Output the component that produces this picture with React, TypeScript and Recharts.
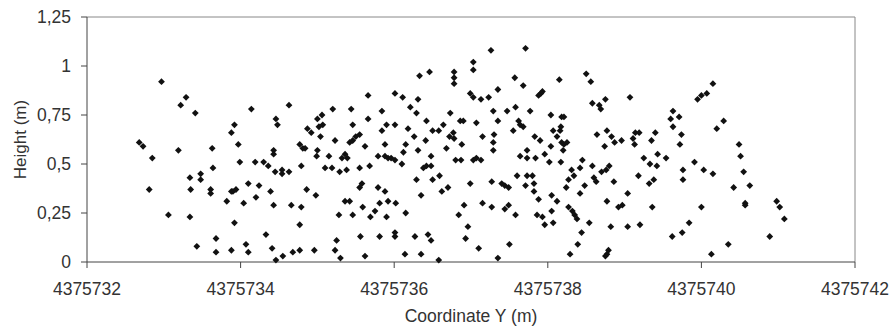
import React from "react";
import {
  ScatterChart,
  Scatter,
  XAxis,
  YAxis,
  ReferenceLine,
} from "recharts";

// Coordinate Y is stored as an offset from this origin (m)
const Y_ORIGIN = 4375732;

const xTicks = [4375732, 4375734, 4375736, 4375738, 4375740, 4375742];
const yTicks = [0, 0.25, 0.5, 0.75, 1, 1.25];

// [coordinate Y offset (m), height (m)]
const pointsWest: [number, number][] = [
  [0.68, 0.61], [0.73, 0.59], [0.97, 0.92], [1.29, 0.84], [1.22, 0.8], [1.41, 0.76],
  [2.14, 0.78], [2.63, 0.8], [1.92, 0.7], [1.88, 0.66], [2.46, 0.73], [2.48, 0.7],
  [2.87, 0.68], [0.85, 0.53], [1.19, 0.57], [1.63, 0.58], [1.97, 0.6], [1.64, 0.48],
  [1.99, 0.51], [2.19, 0.51], [2.3, 0.51], [2.36, 0.49], [2.43, 0.57], [2.43, 0.55],
  [2.45, 0.46], [2.54, 0.47], [2.54, 0.45], [2.63, 0.46], [2.77, 0.6], [2.81, 0.58],
  [2.84, 0.58], [2.79, 0.49], [1.34, 0.43], [1.48, 0.45], [1.48, 0.42], [0.81, 0.37],
  [1.35, 0.37], [1.61, 0.37], [1.61, 0.35], [1.88, 0.36], [1.9, 0.36], [1.94, 0.37],
  [2.1, 0.4], [2.24, 0.39], [2.39, 0.36], [2.2, 0.33], [1.82, 0.31], [2.04, 0.3],
  [2.43, 0.29], [2.66, 0.29], [2.79, 0.28], [2.86, 0.37], [1.06, 0.24], [1.34, 0.23],
  [1.92, 0.2], [2.77, 0.19], [2.33, 0.14], [1.68, 0.12], [1.43, 0.08], [2.07, 0.09],
  [1.68, 0.05], [1.88, 0.06], [2.1, 0.05], [2.41, 0.07], [2.46, 0.01], [2.55, 0.03],
  [2.68, 0.05], [2.77, 0.06],
];

const pointsCentre: [number, number][] = [
  [5.26, 1.08], [5.03, 1.02], [5.03, 0.98], [4.78, 0.97], [4.78, 0.94], [4.78, 0.91],
  [4.46, 0.97], [4.33, 0.95], [5.35, 0.88], [4.99, 0.86], [5.03, 0.84], [5.13, 0.83],
  [5.23, 0.84], [3.66, 0.85], [4.01, 0.86], [4.11, 0.84], [4.31, 0.83], [4.21, 0.79],
  [4.29, 0.76], [3.2, 0.78], [3.44, 0.78], [3.84, 0.77], [3.0, 0.73], [3.06, 0.75],
  [3.02, 0.69], [3.07, 0.7], [3.46, 0.7], [3.66, 0.73], [3.9, 0.7], [4.01, 0.7],
  [3.84, 0.67], [4.18, 0.68], [4.42, 0.72], [4.73, 0.76], [4.64, 0.7], [4.86, 0.72],
  [4.9, 0.72], [5.07, 0.71], [5.29, 0.77], [5.35, 0.72], [2.92, 0.66], [3.55, 0.65],
  [4.5, 0.67], [4.58, 0.67], [4.77, 0.66], [5.3, 0.65],
  [3.04, 0.64], [3.23, 0.62], [3.42, 0.61], [3.46, 0.62], [3.5, 0.64], [3.62, 0.59],
  [3.0, 0.57], [2.99, 0.54], [3.15, 0.54], [3.32, 0.53], [3.36, 0.55], [3.39, 0.53],
  [3.1, 0.48], [3.19, 0.48], [3.29, 0.46], [3.38, 0.47], [3.55, 0.48], [3.68, 0.49],
  [3.79, 0.54], [3.88, 0.6], [3.88, 0.54], [3.92, 0.53], [3.96, 0.53], [4.01, 0.52],
  [4.1, 0.5], [4.12, 0.56], [4.15, 0.6], [4.26, 0.64], [4.41, 0.62], [4.31, 0.57],
  [4.48, 0.54], [4.68, 0.58], [4.88, 0.6], [4.72, 0.64], [4.78, 0.63], [4.8, 0.52],
  [4.87, 0.52], [5.03, 0.52], [5.07, 0.53], [5.13, 0.52], [5.15, 0.64], [5.29, 0.61],
  [5.29, 0.57], [4.38, 0.48], [4.42, 0.49], [4.48, 0.49], [4.29, 0.42], [4.5, 0.42],
  [4.59, 0.44], [4.99, 0.4], [5.27, 0.41], [3.55, 0.38], [3.58, 0.4], [3.79, 0.38],
  [3.88, 0.36], [2.98, 0.34], [4.35, 0.34], [4.62, 0.36], [4.7, 0.38], [3.36, 0.31],
  [3.42, 0.31], [3.59, 0.28], [3.81, 0.3], [3.92, 0.31], [4.02, 0.3], [3.75, 0.26],
  [3.69, 0.23], [3.46, 0.24], [3.28, 0.24], [3.9, 0.23], [4.15, 0.25], [4.91, 0.29],
  [4.84, 0.24], [5.15, 0.3], [5.27, 0.28], [4.96, 0.18], [4.93, 0.12], [3.56, 0.13],
  [3.81, 0.13], [4.01, 0.15], [4.01, 0.13], [4.27, 0.13], [4.44, 0.14], [4.48, 0.11],
  [3.25, 0.11], [3.23, 0.06], [2.96, 0.06], [3.3, 0.02], [3.62, 0.03], [4.14, 0.04],
  [4.35, 0.04], [4.58, 0.01], [5.1, 0.07], [5.35, 0.02], [5.4, 0.4], [5.44, 0.39],
  [5.49, 0.38],
];

const pointsEast: [number, number][] = [
  [5.71, 1.09], [5.57, 0.94], [5.68, 0.9], [6.15, 0.93], [6.5, 0.96], [6.56, 0.92],
  [5.88, 0.85], [5.91, 0.86], [5.93, 0.87], [7.07, 0.84], [6.58, 0.81], [6.67, 0.8],
  [6.69, 0.78], [6.75, 0.83], [5.58, 0.79], [5.47, 0.77], [5.77, 0.77], [6.04, 0.75],
  [6.18, 0.74], [6.21, 0.74], [7.63, 0.77], [7.6, 0.73], [7.71, 0.74], [5.62, 0.72],
  [5.64, 0.7], [5.68, 0.69], [6.17, 0.69], [6.16, 0.67], [6.07, 0.67], [7.63, 0.69],
  [5.55, 0.67], [6.64, 0.65], [6.77, 0.67], [7.14, 0.66], [7.19, 0.66], [7.4, 0.66],
  [7.74, 0.65],
  [5.83, 0.64], [5.9, 0.62], [6.12, 0.64], [6.18, 0.61], [6.21, 0.6], [6.25, 0.61],
  [6.2, 0.57], [6.04, 0.59], [5.73, 0.57], [5.64, 0.54], [5.73, 0.53], [5.84, 0.53],
  [5.96, 0.55], [6.02, 0.51], [6.17, 0.51], [6.83, 0.64], [6.87, 0.61], [6.96, 0.62],
  [7.11, 0.63], [7.13, 0.6], [7.35, 0.62], [7.72, 0.6], [6.74, 0.59], [6.45, 0.52],
  [6.42, 0.48], [6.58, 0.49], [6.31, 0.47], [6.34, 0.44], [6.27, 0.42], [6.7, 0.46],
  [6.76, 0.47], [6.8, 0.49], [6.6, 0.43], [6.63, 0.41], [6.86, 0.41], [7.25, 0.53],
  [7.33, 0.5], [7.43, 0.55], [7.42, 0.49], [7.54, 0.53], [7.76, 0.47], [7.76, 0.42],
  [7.18, 0.44], [7.38, 0.42], [7.32, 0.4], [5.6, 0.44], [5.73, 0.44], [5.8, 0.44],
  [5.71, 0.39], [5.82, 0.4], [6.24, 0.38], [6.48, 0.39], [6.42, 0.35], [5.82, 0.36],
  [5.88, 0.32], [6.05, 0.34], [6.12, 0.31], [7.04, 0.35], [6.77, 0.31], [6.92, 0.28],
  [6.97, 0.29], [7.36, 0.28], [5.49, 0.29], [5.44, 0.27], [6.27, 0.28], [6.32, 0.26],
  [6.35, 0.24], [6.38, 0.22], [5.58, 0.24], [5.86, 0.24], [5.93, 0.23], [6.05, 0.26],
  [5.96, 0.19], [6.07, 0.2], [6.54, 0.2], [6.44, 0.15], [6.82, 0.18], [7.04, 0.18],
  [7.2, 0.19], [7.84, 0.2], [7.75, 0.15], [7.62, 0.13], [5.5, 0.09], [6.39, 0.09],
  [6.29, 0.04], [6.77, 0.04], [6.79, 0.06], [6.75, 0.03],
  [7.95, 0.83], [8.0, 0.85], [8.07, 0.86], [8.15, 0.91], [8.29, 0.72], [8.2, 0.68],
  [8.49, 0.6], [8.51, 0.54], [7.91, 0.51], [8.03, 0.47], [8.15, 0.45], [8.55, 0.46],
  [8.42, 0.38], [8.63, 0.39], [8.57, 0.3], [8.57, 0.29], [8.0, 0.28], [8.98, 0.31],
  [9.02, 0.28], [9.08, 0.22], [8.89, 0.13], [8.35, 0.09], [8.13, 0.04],
];

const data = [...pointsWest, ...pointsCentre, ...pointsEast].map(([dy, h]) => ({
  coord: Y_ORIGIN + dy,
  height: h,
}));

const fmtComma = (v: number) => String(v).replace(".", ",");

const Diamond = (props: any) => {
  const { cx, cy } = props;
  const r = 3.4;
  return (
    <polygon
      points={`${cx},${cy - r} ${cx + r},${cy} ${cx},${cy + r} ${cx - r},${cy}`}
      fill="#111"
    />
  );
};

const FONT = "Liberation Sans, Arial, sans-serif";
const tickStyle = { fill: "#333", fontSize: 17.5, fontFamily: FONT };

export default function App() {
  return (
    <div style={{ position: "absolute", left: 0, top: 0, background: "#fff" }}>
      <ScatterChart width={892} height={327} margin={{ top: 17, right: 37, left: 27, bottom: 35 }}>
        <XAxis
          type="number"
          dataKey="coord"
          domain={[4375732, 4375742]}
          ticks={xTicks}
          height={30}
          tickSize={6}
          tickMargin={15}
          stroke="#444"
          tick={tickStyle}
          allowDataOverflow
          label={{
            value: "Coordinate Y (m)",
            position: "bottom",
            offset: 18,
            style: { fill: "#333", fontSize: 17.5, fontFamily: FONT },
          }}
        />
        <YAxis
          type="number"
          dataKey="height"
          domain={[0, 1.25]}
          ticks={yTicks}
          width={60}
          tickSize={6}
          tickMargin={10}
          stroke="#444"
          tick={tickStyle}
          tickFormatter={fmtComma}
          label={{
            value: "Height (m)",
            angle: -90,
            position: "center",
            dx: -37,
            style: { fill: "#333", fontSize: 17, fontFamily: FONT, textAnchor: "middle" },
          }}
        />
        <ReferenceLine y={1.25} stroke="#888" strokeWidth={1} />
        <ReferenceLine x={4375742} stroke="#888" strokeWidth={1} />
        <Scatter data={data} shape={<Diamond />} isAnimationActive={false} />
      </ScatterChart>
    </div>
  );
}
